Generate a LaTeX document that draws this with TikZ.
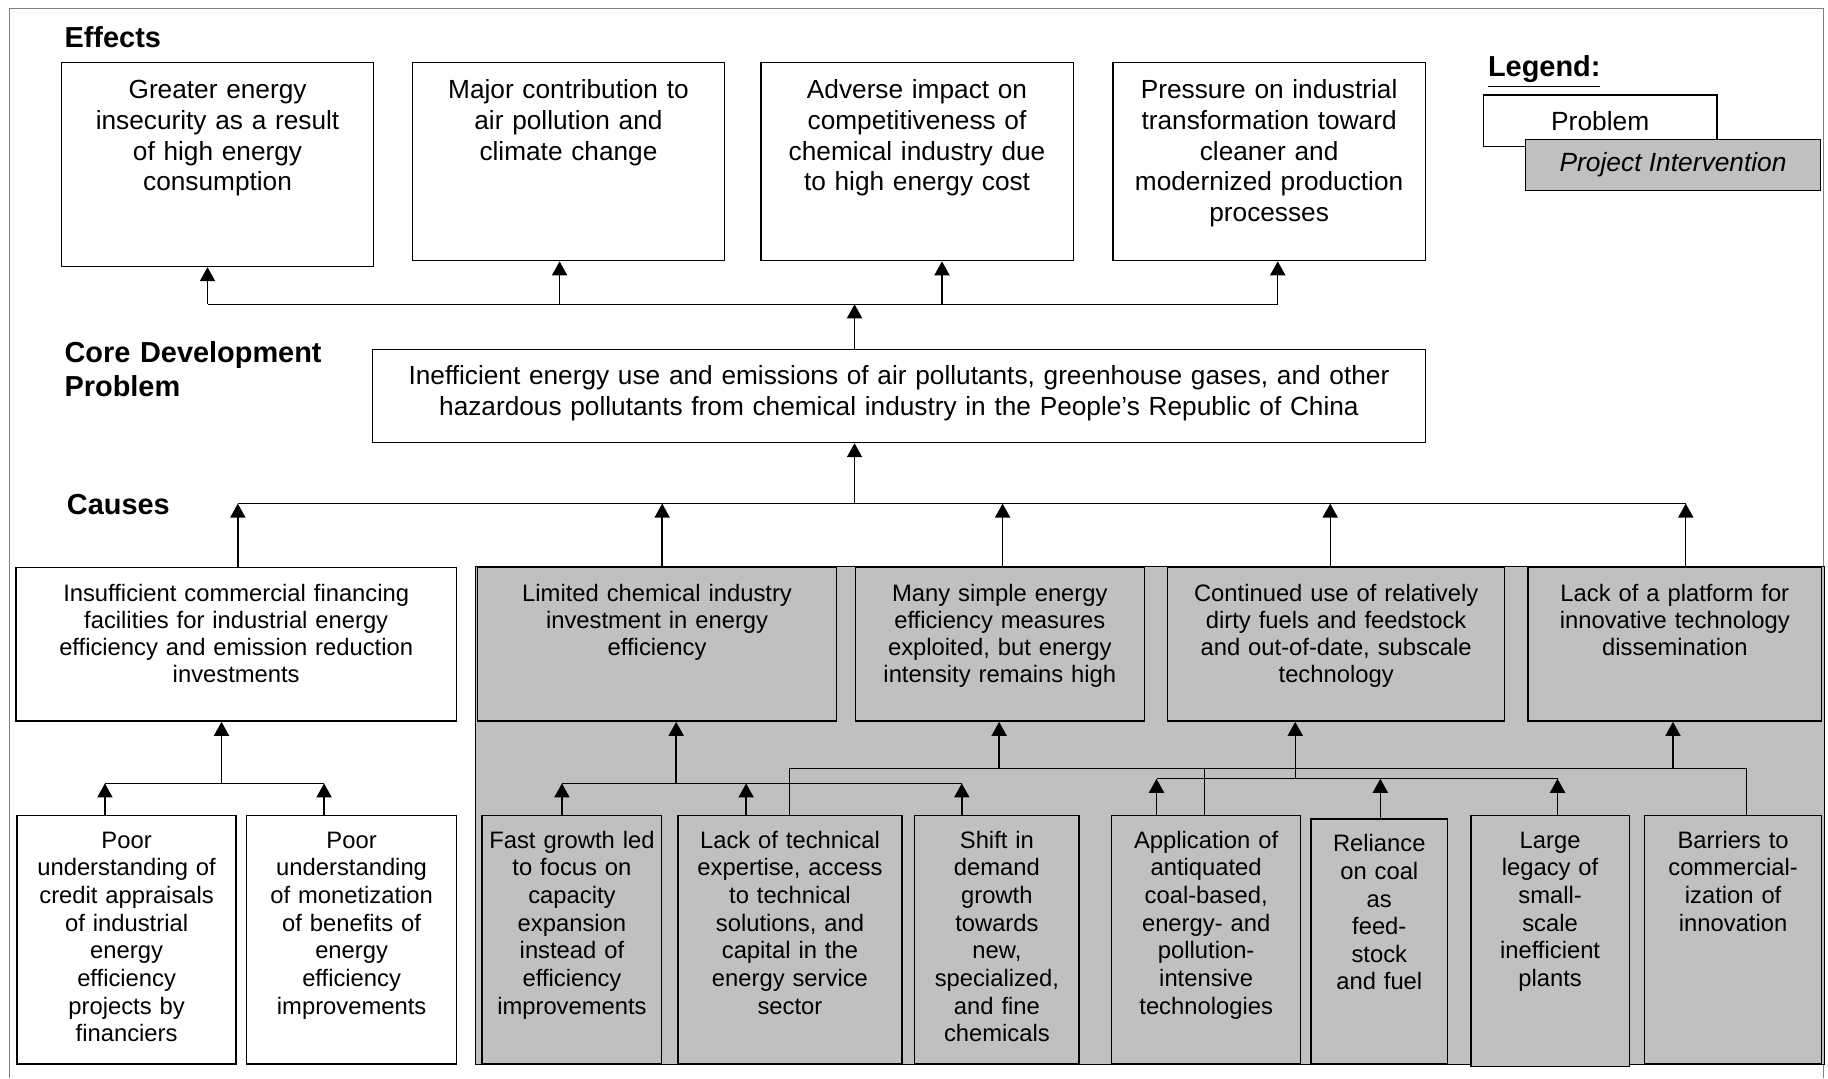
\documentclass[tikz,border=0pt]{standalone}
\usepackage{fontspec}
\setmainfont{Liberation Sans}
\usetikzlibrary{arrows.meta}
\definecolor{boxgray}{HTML}{C0C0C0}
\definecolor{framegray}{HTML}{808080}
\tikzset{
    prob/.style={draw, fill=white, line width=0.6pt, anchor=north west, align=center, inner xsep=2pt, inner ysep=4pt},
    interv/.style={prob, fill=boxgray},
    effect/.style={prob, text width=130pt, text height=11.5pt, font=\fontsize{11.25}{13.2}\selectfont},
    cause/.style={text height=10.5pt, text depth=47.5pt, font=\fontsize{10.2}{11.7}\selectfont},
    root/.style={text height=10pt, text depth=88.5pt, font=\fontsize{10.2}{11.85}\selectfont},
    head/.style={anchor=base west, inner sep=0pt, font=\fontsize{12.4}{14.5}\selectfont\bfseries},
    link/.style={line width=0.6pt},
    up/.style={link, -{Triangle[width=6.5pt,length=6pt]}},
}
\begin{document}
\begin{tikzpicture}[x=0.5pt, y=-0.5pt]
    \useasboundingbox (0,0) rectangle (1568,925);
    % frame and shaded intervention area
    \draw[framegray, line width=0.5pt] (8,925) -- (8,7) -- (1564,7) -- (1564,925);
    \draw[fill=boxgray, line width=0.6pt] (408,486) rectangle (1565,913);

    % headings
    \node[head] (effhead) at (55,41) {Effects};
    \node[head, text width=130pt, align=left] (corehead) at (55,311) {Core Development\\Problem};
    \node[head] (causehead) at (57,441) {Causes};
    \node[head] (leghead) at (1276,66) {\underline{Legend:}};

    % legend
    \node[prob, minimum width=100pt, minimum height=22pt, font=\fontsize{11.3}{13}\selectfont] (legprob) at (1272,81) {Problem};
    \node[interv, minimum width=126.5pt, minimum height=22pt, font=\fontsize{11.3}{13}\selectfont\itshape] (legint) at (1308,119) {Project Intervention};

    % effects
    \node[effect, text depth=68pt] (e1) at (52,53) {Greater energy\\insecurity as a result\\of high energy\\consumption};
    \node[effect, text depth=65.5pt] (e2) at (353,53) {Major contribution to\\air pollution and\\climate change};
    \node[effect, text depth=65.5pt] (e3) at (652,53) {Adverse impact on\\competitiveness of\\chemical industry due\\to high energy cost};
    \node[effect, text depth=65.5pt] (e4) at (954,53) {Pressure on industrial\\transformation toward\\cleaner and\\modernized production\\processes};

    % core problem
    \node[prob, text width=447.5pt, text height=11pt, text depth=21pt, font=\fontsize{11.25}{13.5}\selectfont] (core) at (319,299) {Inefficient energy use and emissions of air pollutants, greenhouse gases, and other\\hazardous pollutants from chemical industry in the People's Republic of China};

    % causes
    \node[prob, cause, text width=185pt] (c1) at (13,486) {Insufficient commercial financing\\facilities for industrial energy\\efficiency and emission reduction\\investments};
    \node[interv, cause, text width=150pt] (c2) at (409,486) {Limited chemical industry\\investment in energy\\efficiency};
    \node[interv, cause, text width=120pt] (c3) at (733,486) {Many simple energy\\efficiency measures\\exploited, but energy\\intensity remains high};
    \node[interv, cause, text width=140.5pt] (c4) at (1001,486) {Continued use of relatively\\dirty fuels and feedstock\\and out-of-date, subscale\\technology};
    \node[interv, cause, text width=122pt] (c5) at (1310,486) {Lack of a platform for\\innovative technology\\dissemination};

    % root causes
    \node[prob, root, text width=90pt] (l1) at (14,699) {Poor\\understanding of\\credit appraisals\\of industrial\\energy\\efficiency\\projects by\\financiers};
    \node[prob, root, text width=86pt] (l2) at (211,699) {Poor\\understanding\\of monetization\\of benefits of\\energy\\efficiency\\improvements};
    \node[interv, root, text width=73pt] (s1) at (413,699) {Fast growth led\\to focus on\\capacity\\expansion\\instead of\\efficiency\\improvements};
    \node[interv, root, text width=92pt] (s2) at (581,699) {Lack of technical\\expertise, access\\to technical\\solutions, and\\capital in the\\energy service\\sector};
    \node[interv, root, text width=66.5pt] (s3) at (784,699) {Shift in\\demand\\growth\\towards\\new,\\specialized,\\and fine\\chemicals};
    \node[interv, root, text width=77pt] (s4) at (953,699) {Application of\\antiquated\\coal-based,\\energy- and\\pollution-\\intensive\\technologies};
    \node[interv, root, text width=54.5pt, text depth=87pt] (s5) at (1124,702) {Reliance\\on coal\\as\\feed-\\stock\\and fuel};
    \node[interv, root, text width=64pt, text depth=89.5pt] (s6) at (1261,699) {Large\\legacy of\\small-\\scale\\inefficient\\plants};
    \node[interv, root, text width=72pt] (s7) at (1410,699) {Barriers to\\commercial-\\ization of\\innovation};

    % core problem to effects
    \coordinate (t0) at (733,261);
    \coordinate (t1) at (178,261);
    \coordinate (t2) at (480,261);
    \coordinate (t3) at (808,261);
    \coordinate (t4) at (1096,261);
    \draw[link] (t1) -- (t4);
    \draw[up] (core.north -| t0) -- (t0);
    \foreach \i in {1,...,4}
        \draw[up] (t\i) -- (t\i |- e\i.south);

    % causes to core problem
    \coordinate (k0) at (733,432);
    \coordinate (k1) at (204,432);
    \coordinate (k2) at (568,432);
    \coordinate (k3) at (860,432);
    \coordinate (k4) at (1141,432);
    \coordinate (k5) at (1446,432);
    \draw[link] (k1) -- (k5);
    \draw[up] (k0) -- (k0 |- core.south);
    \foreach \i in {1,...,5}
        \draw[up] (k\i |- c\i.north) -- (k\i);

    % financing
    \coordinate (a0) at (190,672);
    \coordinate (a1) at (90,672);
    \coordinate (a2) at (278,672);
    \draw[link] (a1) -- (a2);
    \draw[up] (a0) -- (a0 |- c1.south);
    \draw[up] (a1 |- l1.north) -- (a1);
    \draw[up] (a2 |- l2.north) -- (a2);

    % investment
    \coordinate (b0) at (580,672);
    \coordinate (b1) at (482,672);
    \coordinate (b2) at (640,672);
    \coordinate (b3) at (825,672);
    \draw[link] (b1) -- (b3);
    \draw[up] (b0) -- (b0 |- c2.south);
    \draw[up] (b1 |- s1.north) -- (b1);
    \draw[up] (b2 |- s2.north) -- (b2);
    \draw[up] (b3 |- s3.north) -- (b3);

    % intensity and platform
    \coordinate (d0) at (857,659);
    \coordinate (d1) at (677,659);
    \coordinate (d2) at (1033,659);
    \coordinate (d3) at (1498,659);
    \coordinate (d5) at (1435,659);
    \draw[link] (d1 |- s2.north) -- (d1) -- (d3) -- (d3 |- s7.north);
    \draw[link] (d2 |- s4.north) -- (d2);
    \draw[up] (d0) -- (d0 |- c3.south);
    \draw[up] (d5) -- (d5 |- c5.south);

    % fuels
    \coordinate (f0) at (1111,668);
    \coordinate (f1) at (992,668);
    \coordinate (f2) at (1184,668);
    \coordinate (f3) at (1336,668);
    \draw[link] (f1) -- (f3);
    \draw[up] (f0) -- (f0 |- c4.south);
    \draw[up] (f1 |- s4.north) -- (f1);
    \draw[up] (f2 |- s5.north) -- (f2);
    \draw[up] (f3 |- s6.north) -- (f3);
\end{tikzpicture}
\end{document}
